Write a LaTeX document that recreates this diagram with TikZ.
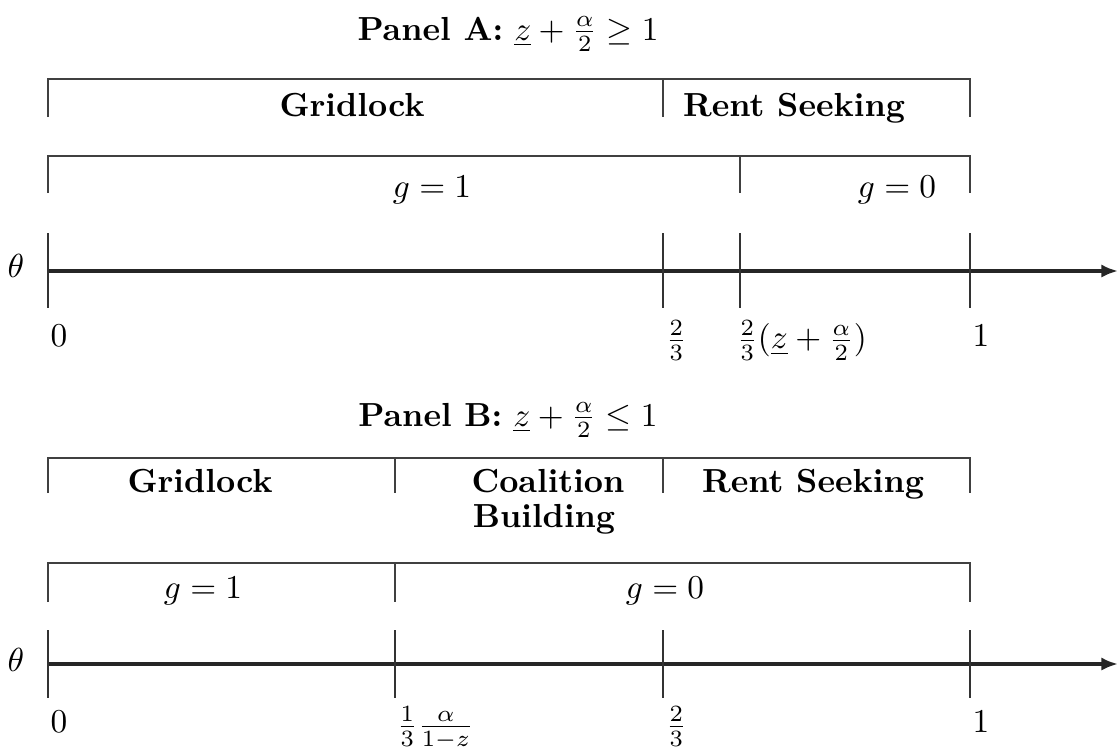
\documentclass[tikz,border=0pt]{standalone}
\usetikzlibrary{arrows.meta}
\begin{document}
\begin{tikzpicture}[x=0.3pt,y=-0.3pt,
  brack/.style={line width=0.6pt,draw=black!75},
  tick/.style={line width=0.6pt,draw=black!80},
  axisline/.style={line width=1.1pt,draw=black!85,-{Latex[length=5pt,width=4pt]}},
  lbl/.style={inner sep=0pt,anchor=base},
  ticklbl/.style={inner sep=0pt,anchor=north west}]
\useasboundingbox (0,0) rectangle (1118,746);

% ---------- Panel A ----------
\node[lbl] (titleA) at (508,40) {\textbf{Panel A:} $\underline{z}+\frac{\alpha}{2}\geq 1$};

% regime bracket
\coordinate (a1l) at (48,79);  \coordinate (a1m) at (663,79);  \coordinate (a1r) at (970,79);
\draw[brack] (a1l) ++(0,38) -- (a1l) -- (a1r) -- ++(0,38);
\draw[brack] (a1m) -- ++(0,38);
\node[lbl] (gridA) at (352,116) {\textbf{Gridlock}};
\node[lbl] (rentA) at (794,116) {\textbf{Rent Seeking}};

% policy bracket
\coordinate (a2l) at (48,156); \coordinate (a2m) at (740,156); \coordinate (a2r) at (970,156);
\draw[brack] (a2l) ++(0,37) -- (a2l) -- (a2r) -- ++(0,37);
\draw[brack] (a2m) -- ++(0,37);
\node[lbl] (g1A) at (432,197) {$g=1$};
\node[lbl] (g0A) at (897,197) {$g=0$};

% axis
\coordinate (ax0) at (48,271);
\coordinate (axend) at (1118,271);
\draw[axisline] (ax0) -- (axend);
\node (thetaA) at (16,266) {$\theta$};
\foreach \x/\n in {48/t0, 663/t1, 740/t2, 970/t3}{
  \coordinate (A\n) at (\x,271);
  \draw[tick] (A\n) ++(0,-38) -- ++(0,75);
}
\node[ticklbl] (lA0) at (50,324) {$0$};
\node[ticklbl] (lA1) at (665,320) {$\frac{2}{3}$};
\node[ticklbl] (lA2) at (736,320) {$\frac{2}{3}(\underline{z}+\frac{\alpha}{2})$};
\node[ticklbl] (lA3) at (972,324) {$1$};

% ---------- Panel B ----------
\node[lbl] (titleB) at (508,426) {\textbf{Panel B:} $\underline{z}+\frac{\alpha}{2}\leq 1$};

% regime bracket
\coordinate (b1l) at (48,458); \coordinate (b1a) at (395,458);
\coordinate (b1b) at (663,458); \coordinate (b1r) at (970,458);
\draw[brack] (b1l) ++(0,35) -- (b1l) -- (b1r) -- ++(0,35);
\draw[brack] (b1a) -- ++(0,35);
\draw[brack] (b1b) -- ++(0,35);
\node[lbl] (gridB) at (200,492) {\textbf{Gridlock}};
\node[lbl] (coalB) at (548,492) {\textbf{Coalition}};
\node[lbl] (buildB) at (544,527) {\textbf{Building}};
\node[lbl] (rentB) at (813,492) {\textbf{Rent Seeking}};

% policy bracket
\coordinate (b2l) at (48,563); \coordinate (b2a) at (395,563); \coordinate (b2r) at (970,563);
\draw[brack] (b2l) ++(0,39) -- (b2l) -- (b2r) -- ++(0,39);
\draw[brack] (b2a) -- ++(0,39);
\node[lbl] (g1B) at (203,598) {$g=1$};
\node[lbl] (g0B) at (665,598) {$g=0$};

% axis
\coordinate (bx0) at (48,664);
\coordinate (bxend) at (1118,664);
\draw[axisline] (bx0) -- (bxend);
\node (thetaB) at (16,660) {$\theta$};
\foreach \x/\n in {48/t0, 395/t1, 663/t2, 970/t3}{
  \coordinate (B\n) at (\x,664);
  \draw[tick] (B\n) ++(0,-34) -- ++(0,68);
}
\node[ticklbl] (lB0) at (50,710) {$0$};
\node[ticklbl] (lB1) at (396,706) {$\frac{1}{3}\frac{\alpha}{1-z}$};
\node[ticklbl] (lB2) at (665,706) {$\frac{2}{3}$};
\node[ticklbl] (lB3) at (972,710) {$1$};
\end{tikzpicture}
\end{document}
